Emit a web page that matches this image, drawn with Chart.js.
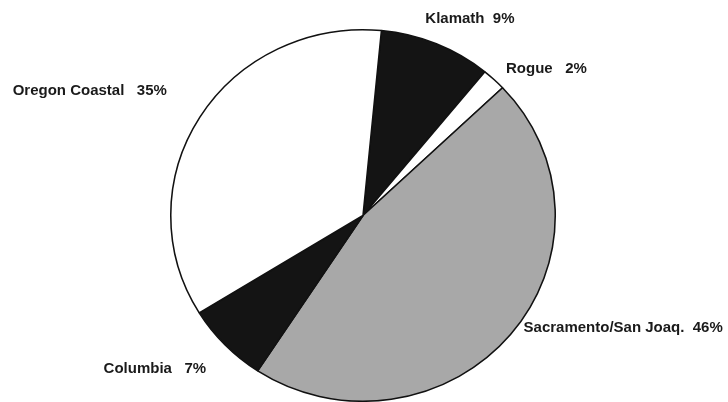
<!DOCTYPE html>
<html>
<head>
<meta charset="utf-8">
<script src="https://cdn.jsdelivr.net/npm/chart.js@4/dist/chart.umd.min.js"></script>
<style>
  body { margin: 0; background: #fff; }
  #pie { display: block; }
</style>
</head>
<body>
<canvas id="pie" width="728" height="402"></canvas>
<script>
// basins, clockwise from the top
var basins = ["Klamath", "Rogue", "Sacramento/San Joaq.", "Columbia", "Oregon Coastal"];
var shares = [9.4, 2.0, 46.3, 7.0, 35.3];
var fills = ["#141414", "#ffffff", "#a8a8a8", "#141414", "#ffffff"];

// the original pie is a touch wider than tall
var stretchX = 1.035;
// label nudges (px) away from the arc's outer mid point, and spaces before the %
var labelNudge = [[-11, -25], [12, -11], [13, -7], [-19, 24], [-33, -26]];
var labelGap = [2, 3, 2, 3, 3];

const stretchPie = {
    id: "stretchPie",
    beforeDatasetsDraw(chart) {
        const ctx = chart.ctx;
        const a = chart.chartArea;
        const cx = (a.left + a.right) / 2;
        ctx.save();
        ctx.translate(cx, 0);
        ctx.scale(stretchX, 1);
        ctx.translate(-cx, 0);
    },
    afterDatasetsDraw(chart) {
        chart.ctx.restore();
    }
};

const sliceLabels = {
    id: "sliceLabels",
    afterDraw(chart) {
        const ctx = chart.ctx;
        const arcs = chart.getDatasetMeta(0).data;
        ctx.save();
        ctx.font = "bold 15px 'Liberation Sans', Arial, sans-serif";
        ctx.fillStyle = "#1a1a1a";
        ctx.textBaseline = "middle";
        arcs.forEach((arc, i) => {
            const p = arc.getProps(["x", "y", "startAngle", "endAngle", "outerRadius"], true);
            const mid = (p.startAngle + p.endAngle) / 2;
            const ax = p.x + Math.cos(mid) * p.outerRadius * stretchX + labelNudge[i][0];
            const ay = p.y + Math.sin(mid) * p.outerRadius + labelNudge[i][1];
            ctx.textAlign = Math.cos(mid) >= 0 ? "left" : "right";
            const text = basins[i] + " ".repeat(labelGap[i]) + Math.round(shares[i]) + "%";
            ctx.fillText(text, ax, ay);
        });
        ctx.restore();
    }
};

new Chart(document.getElementById("pie"), {
    type: "pie",
    data: {
        labels: basins,
        datasets: [{
            data: shares,
            backgroundColor: fills,
            borderColor: "#111",
            borderWidth: 1.5,
        }]
    },
    options: {
        responsive: false,
        animation: false,
        rotation: 5.5,
        layout: {
            padding: {top: 29, bottom: 0, left: 170, right: 172}
        },
        plugins: {
            legend: {display: false},
            tooltip: {enabled: false}
        }
    },
    plugins: [stretchPie, sliceLabels]
});
</script>
</body>
</html>
